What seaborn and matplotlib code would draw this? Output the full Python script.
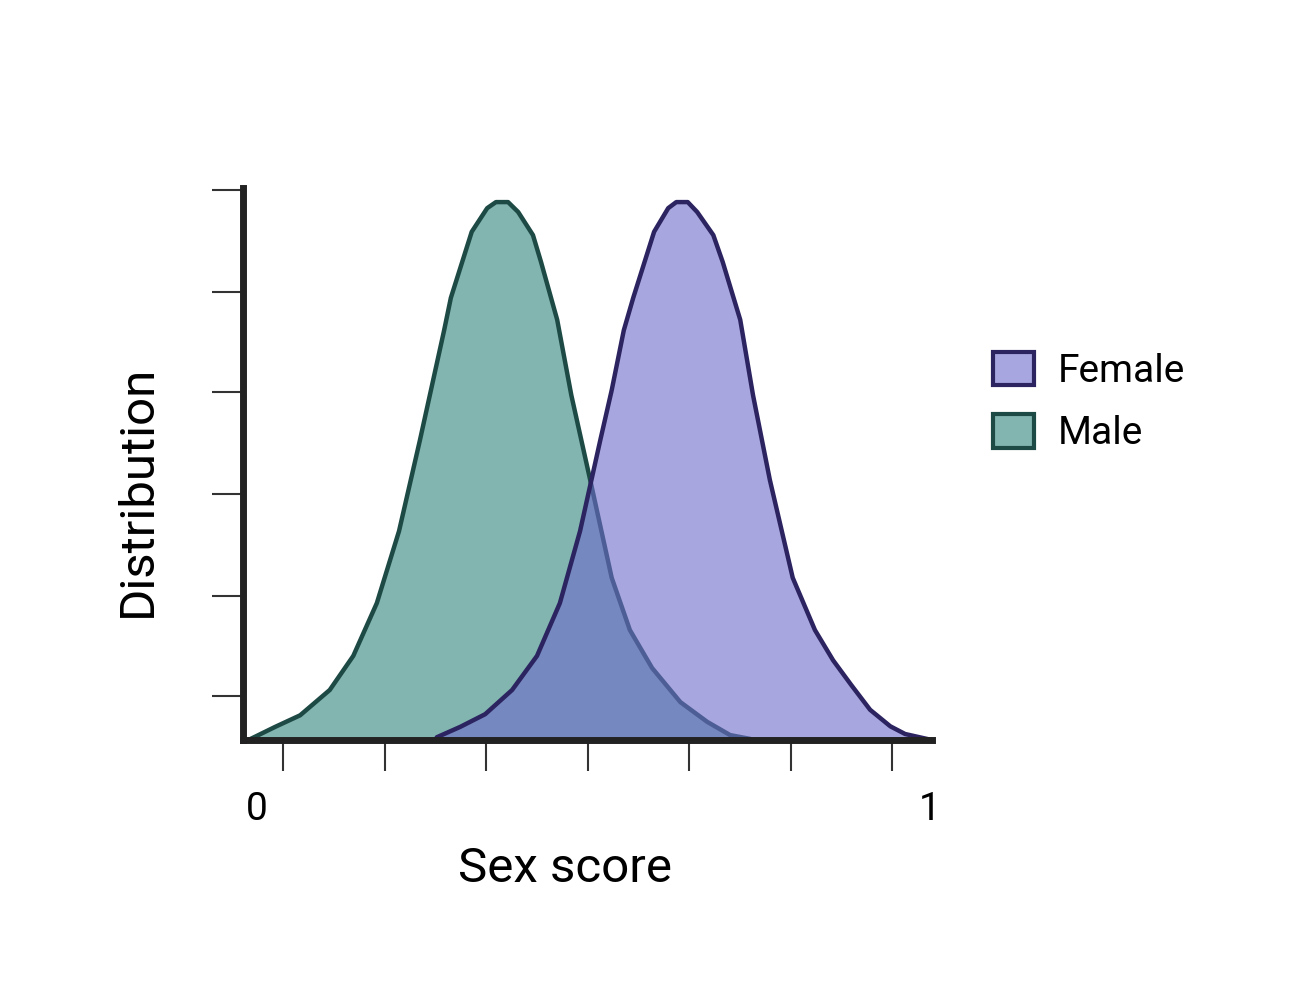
import numpy as np
import pandas as pd
import seaborn as sns
import matplotlib.pyplot as plt
from matplotlib.patches import Patch

# values (sex score, relative density)
male_x = [-0.013, 0.027, 0.064, 0.108, 0.143, 0.178, 0.211, 0.242, 0.278, 0.288,
          0.319, 0.342, 0.355, 0.373, 0.388, 0.410, 0.422, 0.446, 0.467, 0.495,
          0.527, 0.554, 0.587, 0.629, 0.669, 0.703, 0.733]
male_y = [0.000, 0.024, 0.045, 0.091, 0.153, 0.249, 0.380, 0.545, 0.745, 0.804,
          0.924, 0.967, 0.978, 0.978, 0.960, 0.918, 0.869, 0.764, 0.627, 0.473,
          0.295, 0.200, 0.131, 0.069, 0.033, 0.009, 0.002]

female_x = [0.267, 0.302, 0.339, 0.379, 0.416, 0.450, 0.480, 0.510, 0.527, 0.545,
            0.559, 0.590, 0.611, 0.623, 0.640, 0.654, 0.678, 0.692, 0.718, 0.737,
            0.762, 0.796, 0.829, 0.856, 0.883, 0.911, 0.941, 0.963, 1.003]
female_y = [0.005, 0.024, 0.047, 0.091, 0.153, 0.249, 0.380, 0.545, 0.636, 0.745,
            0.804, 0.924, 0.967, 0.978, 0.978, 0.960, 0.918, 0.869, 0.764, 0.627,
            0.473, 0.295, 0.200, 0.145, 0.100, 0.055, 0.025, 0.011, 0.000]

tick_labels = ["0", "1"]
groups = ["Female", "Male"]

male = pd.DataFrame({"score": male_x, "density": male_y})
female = pd.DataFrame({"score": female_x, "density": female_y})

sns.set_style("white")
plt.rcParams['font.family'] = ['Roboto', 'DejaVu Sans']
plt.rcParams['text.color'] = 'black'
plt.rcParams['axes.labelcolor'] = 'black'
plt.rcParams['xtick.color'] = 'black'
plt.rcParams['ytick.color'] = 'black'

male_fill, male_edge = "#82b5b0", "#1e4a45"
fem_fill, fem_edge = "#6e6bcb", "#2b2460"
fem_legend = "#a8a6e0"

fig = plt.figure(figsize=(12.97, 10.07), dpi=100)
ax = fig.add_axes([0.1874, 0.2651, 0.5312, 0.5482])

# male first, female semi-transparent on top
ax.fill_between(male["score"], male["density"], color=male_fill, lw=0, zorder=1)
sns.lineplot(data=male, x="score", y="density", color=male_edge, lw=3.2,
             sort=False, ax=ax, zorder=2, clip_on=False)
ax.fill_between(female["score"], female["density"], color=fem_fill, alpha=0.6,
                lw=0, zorder=3)
sns.lineplot(data=female, x="score", y="density", color=fem_edge, lw=3.2,
             sort=False, ax=ax, zorder=4, clip_on=False)

ax.set_xlim(-0.0208, 1.003)
ax.set_ylim(0, 1.0036)

for s in ["top", "right"]:
    ax.spines[s].set_visible(False)
for s in ["left", "bottom"]:
    ax.spines[s].set_linewidth(5)
    ax.spines[s].set_color("#222222")
    ax.spines[s].set_zorder(5)

# unlabeled tick marks
ax.set_xticks(np.linspace(0.0386, 0.944, 7), minor=True)
ax.set_yticks([1.0, 0.8145, 0.633, 0.447, 0.262, 0.08])
ax.set_yticklabels([])
ax.set_xticks([0, 1])
ax.set_xticklabels(tick_labels, fontsize=28)
ax.tick_params(axis="x", which="major", length=0, pad=37)
ax.tick_params(axis="x", which="minor", length=22, width=1.5, color="#333333",
               direction="out", bottom=True)
ax.tick_params(axis="y", length=22, width=1.5, color="#333333", direction="out",
               left=True)

ax.set_xlabel("Sex score", fontsize=35.5, va="center")
ax.xaxis.set_label_coords(0.467, -0.234)
ax.set_ylabel("Distribution", fontsize=35.5, va="center")
ax.yaxis.set_label_coords(-0.152, 0.451)

handles = [Patch(facecolor=fem_legend, edgecolor=fem_edge, lw=3),
           Patch(facecolor=male_fill, edgecolor=male_edge, lw=3)]
ax.legend(handles, groups, loc="upper left",
          bbox_to_anchor=(0.7506, 0.670), bbox_transform=fig.transFigure,
          frameon=False, fontsize=28, handlelength=1.05, handleheight=0.95,
          handletextpad=0.62, labelspacing=0.62, borderpad=0)

fig.savefig("out.png", dpi=100)
